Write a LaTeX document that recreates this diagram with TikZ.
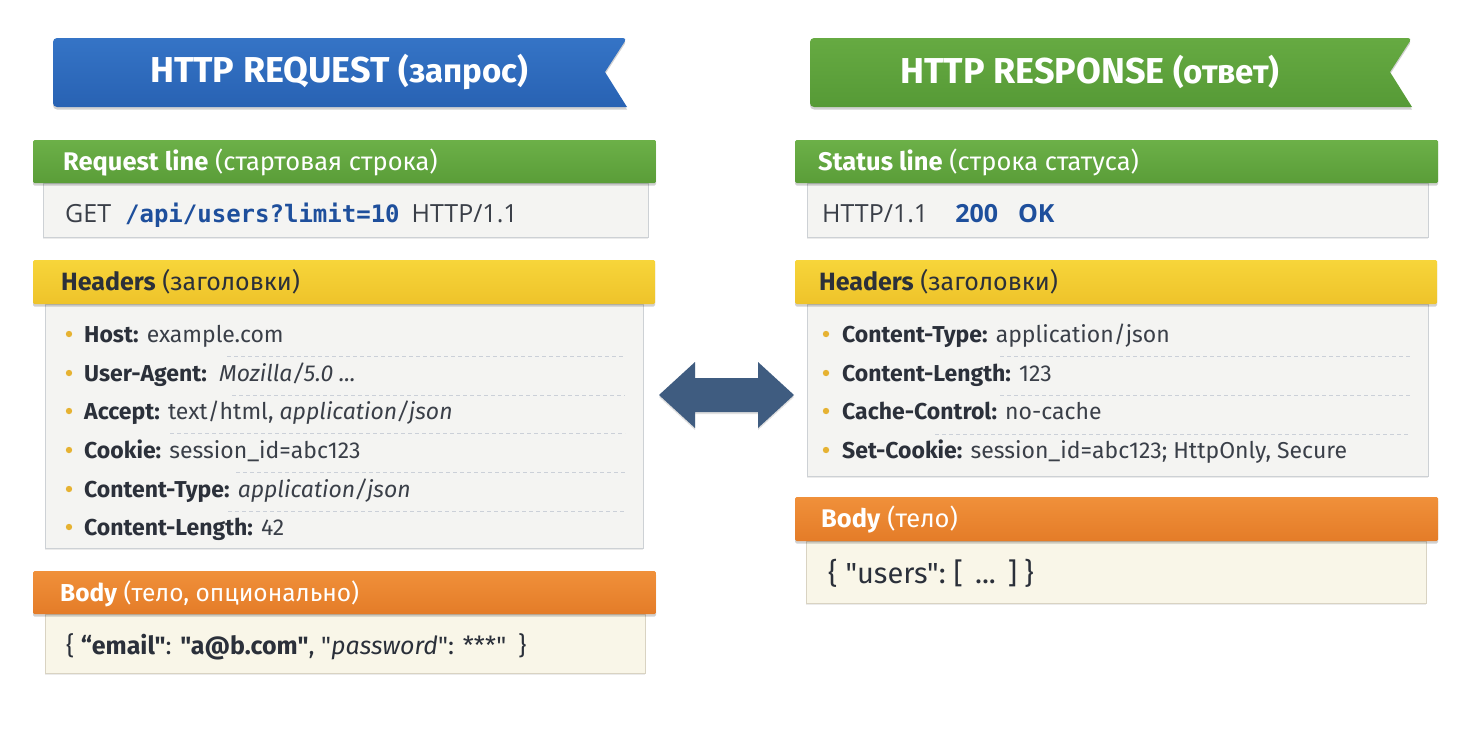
\documentclass[tikz,border=0pt]{standalone}
\usepackage{fontspec}
\setmainfont{Fira Sans}[Ligatures=TeXOff]
\newfontfamily\monof{DejaVu Sans Mono}
\newfontfamily\opensf{Open Sans}
\usetikzlibrary{shadows}
\definecolor{bblueT}{HTML}{3574C6}
\definecolor{bblueB}{HTML}{2862B3}
\definecolor{bgreenT}{HTML}{66AA42}
\definecolor{bgreenB}{HTML}{569A36}
\definecolor{greenT}{HTML}{6CB048}
\definecolor{greenB}{HTML}{5A9D38}
\definecolor{yellowT}{HTML}{F7D53A}
\definecolor{yellowB}{HTML}{EEC32A}
\definecolor{orangeT}{HTML}{F0903A}
\definecolor{orangeB}{HTML}{E47C28}
\definecolor{boxfill}{HTML}{F4F4F2}
\definecolor{boxline}{HTML}{CDD1D5}
\definecolor{creamfill}{HTML}{F9F6E8}
\definecolor{creamline}{HTML}{D9D3C2}
\definecolor{darktxt}{HTML}{2B303A}
\definecolor{valtxt}{HTML}{3A3F48}
\definecolor{bluetxt}{HTML}{1E4F9C}
\definecolor{bulletc}{HTML}{E6B232}
\definecolor{sepc}{HTML}{CBD0D8}
\definecolor{arrowc}{HTML}{3F5C80}
\newcommand{\fsz}[1]{\fontsize{#1}{#1}\selectfont}
\begin{document}
\begin{tikzpicture}[x=1pt,y=-1pt,
  barshadow/.style={general shadow={shadow yshift=-2.5pt, fill=black, opacity=0.18}},
  boxshadow/.style={general shadow={shadow yshift=-1.5pt, fill=black, opacity=0.08}},
  graybox/.style={fill=boxfill, draw=boxline, line width=1pt, boxshadow},
  creambox/.style={fill=creamfill, draw=creamline, line width=1pt, boxshadow},
  bartitle/.style={inner sep=0pt, anchor=base west, font=\fsz{25.5}},
  content/.style={inner sep=0pt, anchor=base west, font=\fsz{25}, text=valtxt},
  itemtxt/.style={inner sep=0pt, anchor=base west, font=\fsz{23}, text=valtxt},
  sep/.style={draw=sepc, line width=0.9pt, dash pattern=on 4pt off 3pt},
  bannertxt/.style={inner sep=0pt, text=white, font=\fsz{36}\bfseries}
]
\useasboundingbox[fill=white] (0,0) rectangle (1472,737);

% ---------- banners ----------
\shade[top color=bblueT, bottom color=bblueB, barshadow, rounded corners=4pt]
  (53,38) -- (627,38) [sharp corners]-- (605,72) -- (627,107) [rounded corners=4pt]-- (53,107) -- cycle;
\node[bannertxt] (reqtitle) at (339,72) {HTTP REQUEST {\fsz{33}(запрос)}};

\shade[top color=bgreenT, bottom color=bgreenB, barshadow, rounded corners=4pt]
  (810,38) -- (1412,38) [sharp corners]-- (1390,72) -- (1412,107) [rounded corners=4pt]-- (810,107) -- cycle;
\node[bannertxt] (restitle) at (1090,72) {HTTP RESPONSE {\fsz{33}(ответ)}};

% ---------- left column ----------
% request line
\draw[graybox] (43,183) rectangle (648,237);
\shade[top color=greenT, bottom color=greenB, barshadow, rounded corners=1.5pt] (33,140) rectangle (656,183);
\node[bartitle, text=white] (reqline) at (63,170.5) {\textbf{Request line} (стартовая строка)};
\node[content] (reqtext) at (65,222) {{\opensf GET}\hspace{14pt}\textcolor{bluetxt}{\monof\bfseries\fsz{24}/api/users?limit=10}\hspace{12pt}{\opensf HTTP/1.1}};

% headers
\draw[graybox] (45,304) rectangle (643,548);
\shade[top color=yellowT, bottom color=yellowB, barshadow, rounded corners=1.5pt] (33,260) rectangle (655,304);
\node[bartitle, text=darktxt, font=\fsz{25}] (reqhdr) at (61,290.5) {\textbf{Headers} (заголовки)};

\foreach \yy/\nm/\txt in {
  334/h1/{\textcolor{darktxt}{\bfseries Host:} example.com},
  373/h2/{\textcolor{darktxt}{\bfseries User-Agent:}\ \ \textit{Mozilla/5.0 ...}},
  411/h3/{\textcolor{darktxt}{\bfseries Accept:} text/html, \textit{application/json}},
  450/h4/{\textcolor{darktxt}{\bfseries Cookie:} session\_id=abc123},
  489/h5/{\textcolor{darktxt}{\bfseries Content-Type:} \textit{application/json}},
  527/h6/{\textcolor{darktxt}{\bfseries Content-Length:} 42}}{
  \fill[bulletc] (69,\yy) circle (3.2pt);
  \node[itemtxt] (\nm) at (84,\yy+8) {\txt};
}
\foreach \yy/\xs in {356/227, 395/232, 433/170, 472/236, 511/228}{
  \draw[sep] (\xs,\yy) -- (625,\yy);
}

% body
\draw[creambox] (45,614) rectangle (645,673);
\shade[top color=orangeT, bottom color=orangeB, barshadow, rounded corners=1.5pt] (33,571) rectangle (656,614);
\node[bartitle, text=white, font=\fsz{24.5}] (reqbody) at (60,601.5) {\textbf{Body} (тело, опционально)};
\node[content, text=darktxt] (reqbodytxt) at (66,654) {\{ \textbf{“email"}: \textbf{"a@b.com"}, "\textit{password}": ***"\hspace{12pt}\}};

% ---------- right column ----------
% status line
\draw[graybox] (807,183) rectangle (1428,237);
\shade[top color=greenT, bottom color=greenB, barshadow, rounded corners=1.5pt] (795,140) rectangle (1438,183);
\node[bartitle, text=white] (statline) at (818,170.5) {\textbf{Status line} (строка статуса)};
\node[content, font=\fsz{25}\opensf] (stattext) at (822,222) {HTTP/1.1\hspace{27pt}\textcolor{bluetxt}{\bfseries 200\hspace{20pt}OK}};

% headers
\draw[graybox] (807,304) rectangle (1428,476);
\shade[top color=yellowT, bottom color=yellowB, barshadow, rounded corners=1.5pt] (795,260) rectangle (1437,304);
\node[bartitle, text=darktxt, font=\fsz{25}] (reshdr) at (819,290.5) {\textbf{Headers} (заголовки)};

\foreach \yy/\nm/\txt in {
  334/r1/{\textcolor{darktxt}{\bfseries Content-Type:} application/json},
  373/r2/{\textcolor{darktxt}{\bfseries Content-Length:} 123},
  411/r3/{\textcolor{darktxt}{\bfseries Cache-Control:} no-cache},
  450/r4/{\textcolor{darktxt}{\bfseries Set-Cookie:} session\_id=abc123; HttpOnly,\ Secure}}{
  \fill[bulletc] (826,\yy) circle (3.2pt);
  \node[itemtxt] (\nm) at (842,\yy+8) {\txt};
}
\foreach \yy/\xs in {356/1000, 395/1000, 434/935}{
  \draw[sep] (\xs,\yy) -- (1410,\yy);
}

% body
\draw[creambox] (806,541) rectangle (1426,603);
\shade[top color=orangeT, bottom color=orangeB, barshadow, rounded corners=1.5pt] (795,497) rectangle (1438,541);
\node[bartitle, text=white] (resbody) at (821,527.5) {\textbf{Body} (тело)};
\node[content, font=\fsz{29}, text=darktxt] (resbodytxt) at (828,583)
  {\{\hspace{8pt}"users":\hspace{8pt}[\hspace{12pt}...\hspace{12pt}]\hspace{7pt}\}};

% ---------- double arrow ----------
\fill[arrowc, general shadow={shadow yshift=-2pt, fill=black, opacity=0.12}]
  (659,395) -- (695,362) -- (695,378) -- (758,378) -- (758,362) -- (794,395)
  -- (758,428) -- (758,412) -- (695,412) -- (695,428) -- cycle;
\end{tikzpicture}
\end{document}
